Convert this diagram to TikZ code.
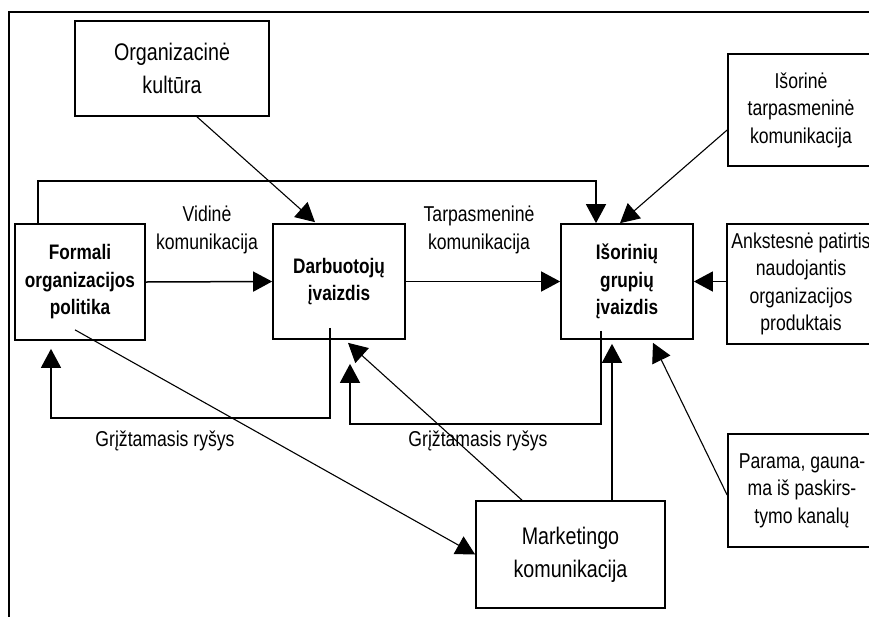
\documentclass[tikz,border=0pt]{standalone}
\usepackage{fontspec}
\setmainfont{Liberation Sans}[FakeStretch=0.82]
\usetikzlibrary{arrows.meta}

\tikzset{
  box/.style={draw, line width=1.7pt, align=center, inner sep=0pt},
  bigtext/.style={font=\fontsize{24}{33}\selectfont},
  midtext/.style={font=\fontsize{21.5}{27.5}\selectfont},
  boldtext/.style={font=\fontsize{21}{27.5}\selectfont\bfseries},
  lbl/.style={align=center, inner sep=0pt, font=\fontsize{21.5}{28}\selectfont},
  tip/.style={-{Triangle[length=19pt,width=20pt]}},
  arr/.style={line width=1.5pt, tip},
  thinarr/.style={line width=1.1pt, tip},
}

\begin{document}
\begin{tikzpicture}[x=1pt,y=-1pt]
\clip (0,0) rectangle (869,616);
\fill[white] (0,0) rectangle (869,616);

% outer frame
\draw[line width=1.7pt] (9,12) rectangle (900,640);

% boxes
\node[box, bigtext, minimum width=194pt, minimum height=95pt] (kult) at (172,68.5) {Organizacinė\\kultūra};
\node[box, boldtext, minimum width=130pt, minimum height=116pt] (formali) at (80,282) {Formali\\organizacijos\\politika};
\node[box, boldtext, minimum width=132pt, minimum height=115pt] (darb) at (339,281.5) {Darbuotojų\\įvaizdis};
\node[box, boldtext, minimum width=132pt, minimum height=115pt] (isor) at (627,281.5) {Išorinių\\grupių\\įvaizdis};
\node[box, midtext, minimum width=146pt, minimum height=112pt] (istarp) at (801,110) {Išorinė\\tarpasmeninė\\komunikacija};
\node[box, midtext, minimum width=148pt, minimum height=120pt] (ankst) at (801,284) {Ankstesnė patirtis\\naudojantis\\organizacijos\\produktais};
\node[box, midtext, minimum width=148pt, minimum height=113pt] (parama) at (802,490.5) {Parama, gauna-\\ma iš paskirs-\\tymo kanalų};
\node[box, bigtext, minimum width=189pt, minimum height=107pt] (mark) at (570.5,554.5) {Marketingo\\komunikacija};

% labels
\node[lbl] (lvid) at (207,230) {Vidinė\\komunikacija};
\node[lbl] (ltarp) at (479,230) {Tarpasmeninė\\komunikacija};
\node[lbl] (lfb1) at (165,441) {Grįžtamasis ryšys};
\node[lbl] (lfb2) at (478,441) {Grįžtamasis ryšys};

% main flow
\draw[arr] (formali.east) -- (darb.west);
\draw[arr] (darb.east) -- (isor.west);
\draw[arr] (ankst.west |- isor.east) -- (isor.east);

% loop over the top
\draw[arr] ([xshift=-42pt]formali.north) -- ++(0,-42) -| ([xshift=-31pt]isor.north);

% influences
\draw[thinarr] ([xshift=25pt]kult.south) -- ([xshift=-24pt,yshift=1pt]darb.north);
\draw[thinarr] ([yshift=-20pt]istarp.west) -- ([xshift=-7pt]isor.north);
\draw[thinarr] ([yshift=-4.5pt]parama.west) -- ([xshift=26pt,yshift=-3pt]isor.south);
\draw[thinarr] ([xshift=-5pt,yshift=11pt]formali.south) -- (mark.west);
\draw[thinarr] ([xshift=-48.5pt]mark.north) -- ([xshift=9pt,yshift=-3pt]darb.south);
\draw[arr] ([xshift=41.5pt]mark.north) -- ([xshift=-15pt,yshift=-4pt]isor.south);

% feedback loops
\draw[arr] ([xshift=-9pt,yshift=12pt]darb.south) -- ++(0,90) -| ([xshift=-29pt,yshift=-8pt]formali.south);
\draw[arr] ([xshift=-26pt,yshift=9pt]isor.south) -- ++(0,93) -| ([xshift=11pt,yshift=-24pt]darb.south);
\end{tikzpicture}
\end{document}
